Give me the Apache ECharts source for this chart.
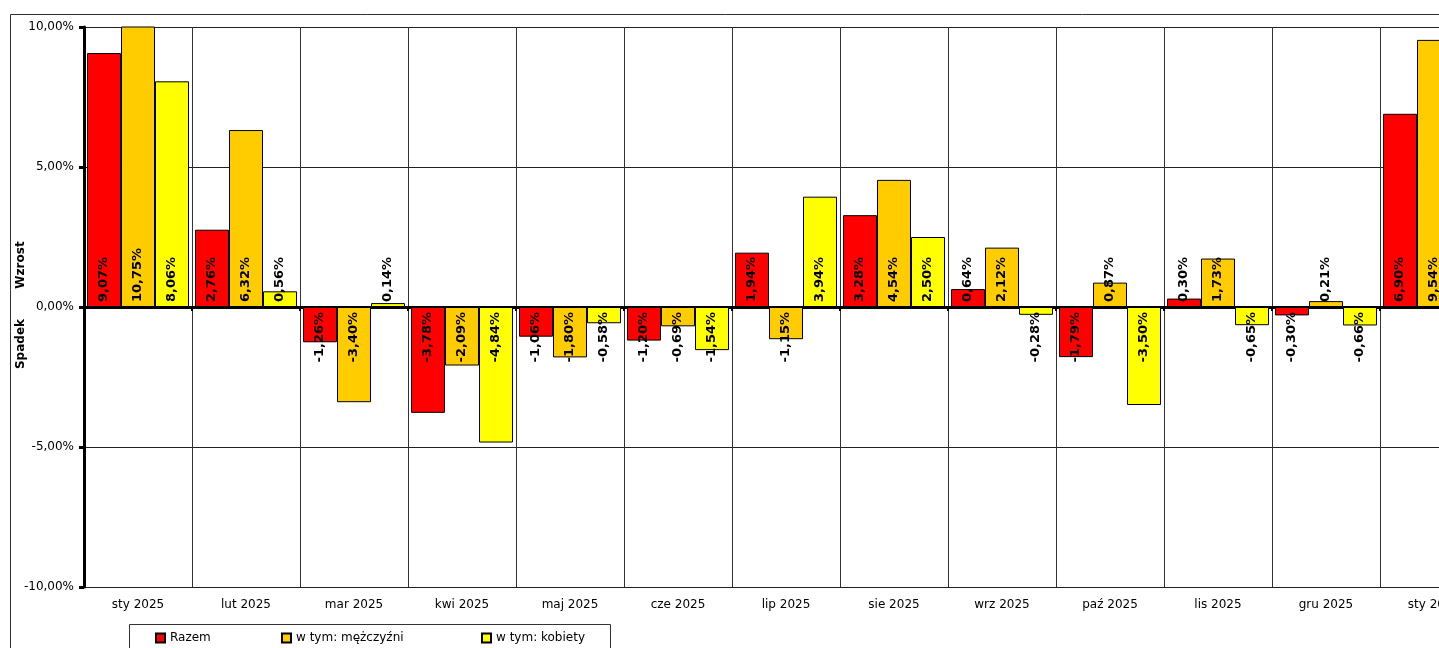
<!DOCTYPE html>
<html>
<head>
<meta charset="utf-8">
<script src="https://cdn.jsdelivr.net/npm/echarts@6/dist/echarts.min.js"></script>
<style>
html,body{margin:0;padding:0;background:#fff;}
#chart{width:1439px;height:648px;}
</style>
</head>
<body>
<div id="chart"></div>
<script>
const categories = ['sty 2025','lut 2025','mar 2025','kwi 2025','maj 2025','cze 2025','lip 2025','sie 2025','wrz 2025','paź 2025','lis 2025','gru 2025','sty 2026'];
const seriesNames = ['Razem','w tym: mężczyźni','w tym: kobiety'];
const razem = [9.07, 2.76, -1.26, -3.78, -1.06, -1.20, 1.94, 3.28, 0.64, -1.79, 0.30, -0.30, 6.90];
const mezczyzni = [10.75, 6.32, -3.40, -2.09, -1.80, -0.69, -1.15, 4.54, 2.12, 0.87, 1.73, 0.21, 9.54];
// last value is outside the visible picture (estimate)
const kobiety = [8.06, 0.56, 0.14, -4.84, -0.58, -1.54, 3.94, 2.50, -0.28, -3.50, -0.65, -0.66, 4.30];
const yTicks = [-10, -5, 0, 5, 10];
const colors = ['#FF0000', '#FFCC00', '#FFFF00'];

const FONT = 'DejaVu Sans';
function pct(v){ return v.toFixed(2).replace('.', ',') + '%'; }

function buildData(arr){
  return arr.map(function(v){
    const pos = v >= 0;
    return {
      value: v,
      label: pos
        ? {position:'insideBottom', align:'left', verticalAlign:'middle'}
        : {position:'insideTop', align:'right', verticalAlign:'middle'}
    };
  });
}

function makeSeries(name, arr, color){
  return {
    name: name,
    type: 'bar',
    xAxisIndex: 0,
    yAxisIndex: 0,
    barGap: '0%',
    barCategoryGap: '5.5%',
    data: buildData(arr),
    itemStyle: {color: color, borderColor: '#000', borderWidth: 1},
    label: {
      show: true,
      rotate: 90,
      distance: 5,
      color: '#000',
      fontFamily: FONT,
      fontWeight: 'bold',
      fontSize: 13,
      formatter: function(p){ return pct(p.value); }
    },
    emphasis: {disabled: true},
    animation: false
  };
}

const chart = echarts.init(document.getElementById('chart'), null, {renderer:'canvas'});
const legendBase = {
  orient: 'horizontal', top: 632, padding: 0,
  itemWidth: 9, itemHeight: 9, icon: 'rect',
  textStyle: {fontFamily: FONT, fontSize: 12, color: '#000'},
  selectedMode: false
};
chart.setOption({
  backgroundColor: '#fff',
  animation: false,
  textStyle: {fontFamily: FONT},
  grid: {left: 84, top: 27, width: 1404, bottom: 61, containLabel: false, outerBoundsMode: 'none'},
  legend: [
    Object.assign({}, legendBase, {left: 155, data: [seriesNames[0]]}),
    Object.assign({}, legendBase, {left: 281, data: [seriesNames[1]]}),
    Object.assign({}, legendBase, {left: 481, data: [seriesNames[2]]})
  ],
  xAxis: [
    {
      type: 'category', data: categories, position: 'bottom',
      boundaryGap: true,
      axisLine: {show: false, onZero: false},
      axisTick: {show: false},
      axisLabel: {fontFamily: FONT, fontSize: 12, color: '#000', margin: 12, interval: 0},
      splitLine: {show: true, interval: 0, lineStyle: {color: '#333', width: 1}}
    },
    {
      type: 'category', data: categories, position: 'bottom',
      boundaryGap: true,
      axisLine: {show: true, onZero: true, lineStyle: {color: '#000', width: 3}},
      axisTick: {show: true, length: 4, interval: 0, lineStyle: {color: '#000', width: 2}},
      axisLabel: {show: false},
      splitLine: {show: false}
    }
  ],
  yAxis: {
    type: 'value', min: yTicks[0], max: yTicks[yTicks.length-1], interval: 5,
    axisLine: {show: true, onZero: false, lineStyle: {color: '#000', width: 3}},
    axisTick: {show: true, length: 5, lineStyle: {color: '#000', width: 3}},
    axisLabel: {fontFamily: FONT, fontSize: 12, color: '#000', margin: 10, formatter: function(v){ return pct(v); }},
    splitLine: {show: true, lineStyle: {color: '#222', width: 1}}
  },
  series: [
    makeSeries(seriesNames[0], razem, colors[0]),
    makeSeries(seriesNames[1], mezczyzni, colors[1]),
    makeSeries(seriesNames[2], kobiety, colors[2])
  ],
  graphic: [
    {type:'rect', silent:true, z:-10, shape:{x:10.5, y:14.5, width:1500, height:700}, style:{fill:'none', stroke:'#333', lineWidth:1}},
    {type:'rect', silent:true, z:-10, shape:{x:129.5, y:624.5, width:481, height:60}, style:{fill:'none', stroke:'#333', lineWidth:1}},
    {type:'text', silent:true, x:21, y:265, rotation:Math.PI/2, style:{text:'Wzrost', font:'bold 12px "DejaVu Sans"', fill:'#000', textAlign:'center', textVerticalAlign:'middle'}},
    {type:'text', silent:true, x:21, y:344, rotation:Math.PI/2, style:{text:'Spadek', font:'bold 12px "DejaVu Sans"', fill:'#000', textAlign:'center', textVerticalAlign:'middle'}}
  ]
});
</script>
</body>
</html>
